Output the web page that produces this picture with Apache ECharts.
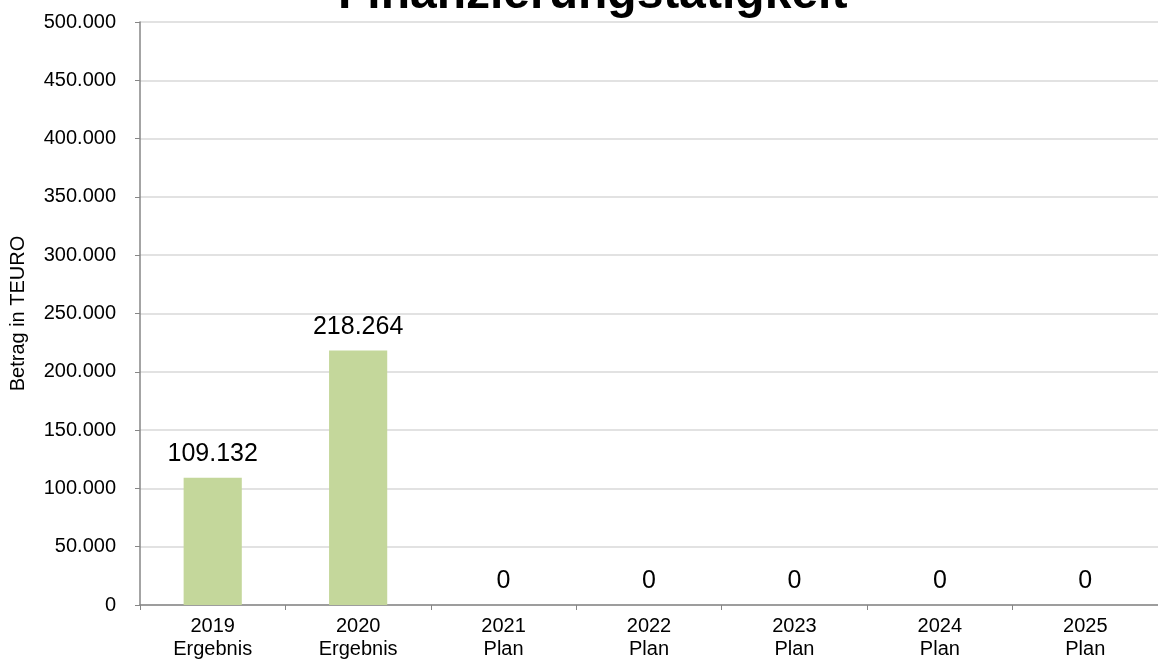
<!DOCTYPE html>
<html>
<head>
<meta charset="utf-8">
<script src="https://cdn.jsdelivr.net/npm/echarts@6/dist/echarts.min.js"></script>
<style>
html,body{margin:0;padding:0;background:#fff;}
#chart{width:1158px;height:666px;}
</style>
</head>
<body>
<div id="chart"></div>
<script>
var categories = ['2019\nErgebnis', '2020\nErgebnis', '2021\nPlan', '2022\nPlan', '2023\nPlan', '2024\nPlan', '2025\nPlan'];
var values = [109132, 218264, 0, 0, 0, 0, 0];

function fmt(v){
	return String(v).replace(/\B(?=(\d{3})+(?!\d))/g, '.');
}

var myChart = echarts.init(document.getElementById('chart'));
myChart.setOption({
	animation: false,
	textStyle: {fontFamily: 'Liberation Sans, Arial, sans-serif'},
	title: {
		text: 'Finanzierungstätigkeit',
		left: 338,
		top: -29,
		padding: 0,
		textStyle: {fontSize: 48, fontWeight: 'bold', color: '#000'}
	},
	grid: {left: 140, right: -4, top: 22, bottom: 61},
	xAxis: {
		type: 'category',
		data: categories,
		axisLine: {lineStyle: {color: '#868686', width: 1.5}},
		axisTick: {show: true, length: 5, lineStyle: {color: '#868686'}},
		axisLabel: {color: '#000', fontSize: 20, lineHeight: 23, margin: 10}
	},
	yAxis: {
		type: 'value',
		min: 0,
		max: 500000,
		interval: 50000,
		name: 'Betrag in TEURO',
		nameLocation: 'middle',
		nameGap: 112,
		nameTextStyle: {fontSize: 20, color: '#000'},
		axisLine: {show: true, lineStyle: {color: '#868686', width: 1.5}},
		axisTick: {show: true, length: 5, lineStyle: {color: '#868686'}},
		splitLine: {lineStyle: {color: '#d9d9d9', width: 1.5}},
		axisLabel: {color: '#000', fontSize: 20, margin: 24, formatter: fmt}
	},
	series: [{
		type: 'bar',
		data: values,
		barWidth: '40%',
		itemStyle: {color: '#c4d79b'},
		label: {
			show: true,
			position: 'top',
			distance: 11,
			fontSize: 25,
			color: '#000',
			formatter: function(p){ return fmt(p.value); }
		}
	}]
});
</script>
</body>
</html>
